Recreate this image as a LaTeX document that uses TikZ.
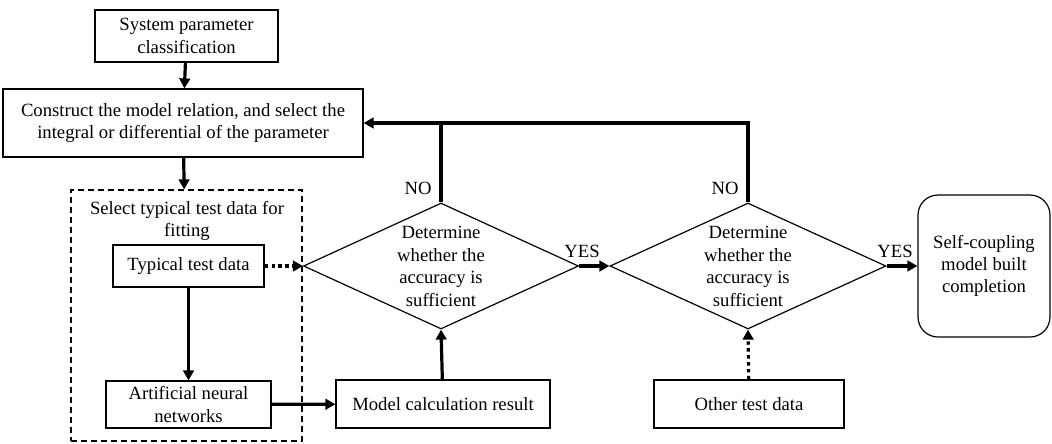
\documentclass[tikz,border=0pt]{standalone}
\usepackage{fontspec}
\setmainfont{Liberation Serif}
\usetikzlibrary{arrows.meta,shapes.geometric}
\begin{document}
\begin{tikzpicture}[x=0.75pt,y=-0.75pt,
  font=\fontsize{14}{16.8}\selectfont,
  box/.style={draw, line width=0.9pt, inner sep=0pt, align=center},
  dia/.style={draw, diamond, line width=0.9pt, inner sep=0pt},
  arr/.style={line width=2.4pt, -{Triangle[length=7.5pt,width=8pt]}},
  dotarr/.style={line width=2.4pt, dash pattern=on 2.6pt off 2.6pt, -{Triangle[length=7.5pt,width=8pt]}},
  thk/.style={line width=2.4pt},
  lbl/.style={inner sep=1pt}]
\useasboundingbox (0,0) rectangle (1052,443);
\node[box, minimum width=137.25pt, minimum height=39pt] (b1) at (186.5,36) {System parameter\\classification};
\node[box, minimum width=270pt, minimum height=51pt] (b2) at (183,123) {Construct the model relation, and select the\\integral or differential of the parameter};
\node[draw, dashed, dash pattern=on 4.5pt off 3pt, line width=0.9pt, minimum width=173.25pt, minimum height=188.25pt, inner sep=0pt] (grp) at (186.5,315.5) {};
\node[align=center, inner sep=0pt] (grpt) at (187,221) {Select typical test data for\\fitting};
\node[box, minimum width=113.25pt, minimum height=31.5pt] (typ) at (188.5,266) {Typical test data};
\node[box, minimum width=123.75pt, minimum height=35.25pt] (ann) at (188.5,404.5) {Artificial neural\\networks};
\node[box, minimum width=160.5pt, minimum height=36pt] (mod) at (443,404) {Model calculation result};
\node[box, minimum width=142.5pt, minimum height=36pt] (oth) at (749,404) {Other test data};
\node[dia, minimum width=206.25pt, minimum height=94.5pt] (d1) at (441,266) {};
\node[align=center, inner sep=0pt] (d1t) at (441,266.5) {Determine\\whether the\\accuracy is\\sufficient};
\node[dia, minimum width=207pt, minimum height=94.5pt] (d2) at (748,266) {};
\node[align=center, inner sep=0pt] (d2t) at (748,266.5) {Determine\\whether the\\accuracy is\\sufficient};
\node[box, rounded corners=15pt, minimum width=99pt, minimum height=106.5pt] (fin) at (984,266) {Self-coupling\\model built\\completion};
% connectors
\draw[arr] (b1) -- (b2);
\draw[arr] (b2) -- (grp);
\draw[dotarr] (typ) -- (d1.west);
\draw[arr] (typ) -- (ann);
\draw[arr] (ann) -- (mod);
\draw[arr] (mod) -- (d1.south);
\draw[arr] (d1.east) -- (d2.west);
\draw[arr] (d2.east) -- (fin);
\draw[dotarr] (oth) -- (d2.south);
\draw[arr] (d2.north) |- (b2.east);
\draw[thk] (d1.north) -- (d1.north |- b2.east);
% labels
\node[lbl] (no1) at (418,188) {NO};
\node[lbl] (no2) at (725,188) {NO};
\node[lbl] (yes1) at (582,251) {YES};
\node[lbl] (yes2) at (895,251) {YES};
\end{tikzpicture}
\end{document}
